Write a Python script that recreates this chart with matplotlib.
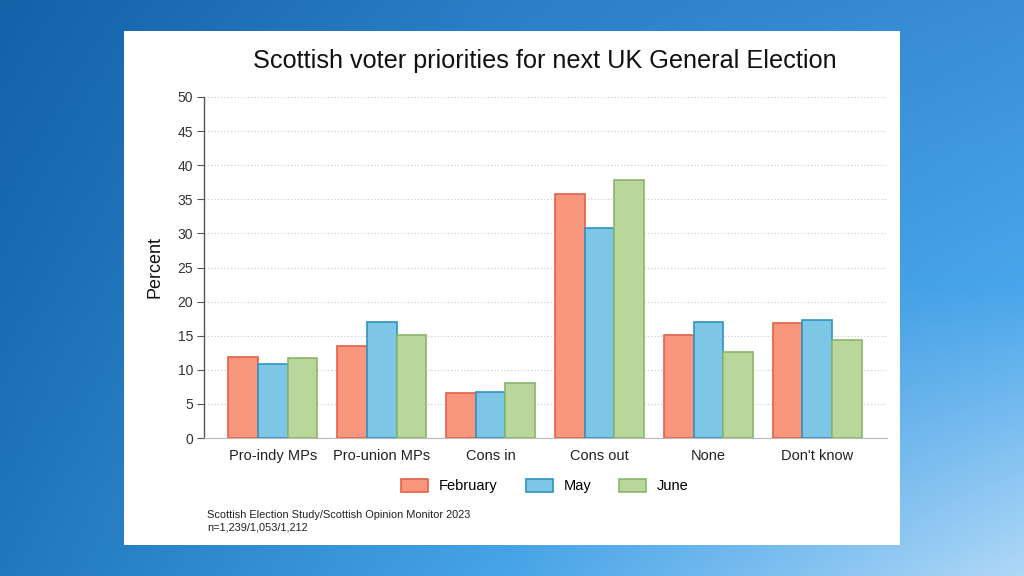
import numpy as np
import matplotlib.pyplot as plt
from matplotlib import font_manager
from matplotlib.colors import to_rgb

categories = ["Pro-indy MPs", "Pro-union MPs", "Cons in", "Cons out", "None", "Don't know"]
february = [11.9, 13.5, 6.6, 35.8, 15.1, 16.8]
may = [10.9, 17.0, 6.8, 30.8, 17.0, 17.3]
june = [11.8, 15.1, 8.0, 37.8, 12.6, 14.4]
series_names = ["February", "May", "June"]
yticks = list(range(0, 55, 5))

names = {f.name for f in font_manager.fontManager.ttflist}
narrow = "Liberation Sans Narrow" if "Liberation Sans Narrow" in names else "Liberation Sans"
plt.rcParams["font.family"] = ["Liberation Sans", "DejaVu Sans"]

fig = plt.figure(figsize=(10.24, 5.76), dpi=100)

# blue gradient background: 3x3 colour grid, bilinear blend
grid = np.array([[to_rgb(c) for c in row] for row in [
    ["#1262a8", "#2c7ec6", "#3a8ed6"],
    ["#1a6cb2", "#3590d8", "#4aa6ea"],
    ["#2178bc", "#48a5e8", "#b0d8f7"],
]])
n = 240
pos = np.linspace(0, 2, n)
rows = np.stack([np.stack([np.interp(pos, [0, 1, 2], grid[r, :, k]) for k in range(3)], -1)
                 for r in range(3)])  # 3 x n x 3
img = np.stack([np.stack([np.interp(pos, [0, 1, 2], rows[:, j, k]) for k in range(3)], -1)
                for j in range(n)], 1)  # n x n x 3
bg = fig.add_axes([0, 0, 1, 1], zorder=-2)
bg.imshow(img, extent=[0, 1, 0, 1], aspect="auto", origin="upper", interpolation="bilinear")
bg.axis("off")

# white panel
W, H = 1024, 576
panel = fig.add_axes([124 / W, 1 - 545 / H, (900 - 124) / W, (545 - 31) / H], zorder=-1)
panel.set_facecolor("white")
panel.set_xticks([])
panel.set_yticks([])
for s in panel.spines.values():
    s.set_visible(False)

ax = fig.add_axes([204 / W, 1 - 438 / H, (887 - 204) / W, (438 - 97) / H])
ax.set_facecolor("none")

x = np.arange(len(categories))
w = 0.272
fills = ["#f9967e", "#7ec6e6", "#b9d79b"]
edges = ["#e4604a", "#2f93c4", "#8ab56a"]
for i, (vals, name) in enumerate(zip([february, may, june], series_names)):
    ax.bar(x + (i - 1) * w, vals, w, color=fills[i], edgecolor=edges[i],
           linewidth=1.2, label=name, zorder=3)

ax.set_xlim(-0.632, 5.64)
ax.set_ylim(0, 50)
ax.set_yticks(yticks)
ax.set_yticklabels([str(v) for v in yticks], fontsize=10, color="#333333")
ax.set_xticks(x)
ax.set_xticklabels(categories, fontsize=10.5, color="#222222", family=[narrow, "DejaVu Sans"])
ax.tick_params(axis="y", direction="out", length=5, width=0.8, color="#555555", pad=3)
ax.tick_params(axis="x", length=0, pad=8)
ax.yaxis.grid(True, linestyle=(0, (1, 2)), color="#c8c8c8", linewidth=0.8)
ax.set_axisbelow(True)
for s in ["top", "right"]:
    ax.spines[s].set_visible(False)
ax.spines["left"].set_color("#555555")
ax.spines["left"].set_linewidth(1.0)
ax.spines["bottom"].set_color("#bbbbbb")
ax.spines["bottom"].set_linewidth(0.8)
ax.set_ylabel("Percent", fontsize=13, color="#111111", labelpad=10)

fig.text(545 / W, 1 - 61 / H, "Scottish voter priorities for next UK General Election",
         ha="center", va="center", fontsize=18.2, color="#111111")

fig.legend(loc="center", bbox_to_anchor=(545 / W, 1 - 486 / H), ncol=3, frameon=False,
           prop={"family": narrow, "size": 10.5}, handlelength=1.85, handleheight=1.0,
           columnspacing=1.9, handletextpad=0.75)

fig.text(207 / W, 1 - 515 / H, "Scottish Election Study/Scottish Opinion Monitor 2023",
         ha="left", va="center", fontsize=7.9, color="#222222", family=[narrow, "DejaVu Sans"])
fig.text(207 / W, 1 - 528 / H, "n=1,239/1,053/1,212",
         ha="left", va="center", fontsize=7.9, color="#222222", family=[narrow, "DejaVu Sans"])

fig.savefig("out.png", dpi=100)
